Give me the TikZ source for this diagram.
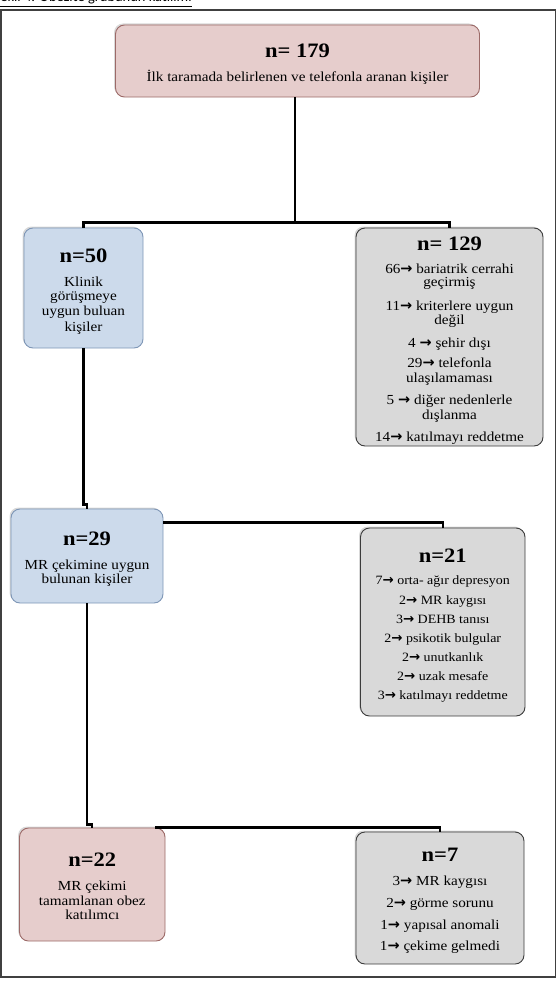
\documentclass[tikz,border=0pt]{standalone}
\usepackage{fontspec}
\setmainfont[FakeStretch=1.1]{Liberation Serif}
\newfontfamily\arrowfont{DejaVu Sans}
\newfontfamily\capfont{Carlito}
\usetikzlibrary{shadows,backgrounds}
\definecolor{pinkfill}{HTML}{E6CDCC}
\definecolor{pinkdraw}{HTML}{9C6A68}
\definecolor{bluefill}{HTML}{CCDAEB}
\definecolor{bluedraw}{HTML}{7E96B6}
\definecolor{greyfill}{HTML}{D9D9D9}
\definecolor{greydraw}{HTML}{3C3C3C}
\newcommand\ar{{\arrowfont\bfseries\scalebox{1.05}{→}}}
\begin{document}
\begin{tikzpicture}[x=1pt,y=-1pt,
  box/.style={rectangle, rounded corners=9pt, line width=0.9pt, inner sep=0pt,
    drop shadow={shadow xshift=-1.5pt, shadow yshift=1.5pt, fill=black, opacity=0.15}},
  pinkbox/.style={box, draw=pinkdraw, fill=pinkfill},
  bluebox/.style={box, draw=bluedraw, fill=bluefill},
  greybox/.style={box, draw=greydraw, fill=greyfill},
  ttl/.style={anchor=base, inner sep=0pt, font=\fontsize{20.5}{22}\selectfont\bfseries},
  body/.style={anchor=base, inner sep=0pt, font=\fontsize{13.8}{15}\selectfont},
  smallbody/.style={anchor=base, inner sep=0pt, font=\fontsize{12.7}{14}\selectfont},
  conn/.style={line width=2.2pt, black}]
\useasboundingbox (0,0) rectangle (557,982);
\clip (0,0) rectangle (557,982);

% caption (cut at top)
\node[anchor=base west, inner sep=0pt, font=\capfont\fontsize{14.5}{16}\selectfont] (cap) at (-6.5,2) {\underline{Şekil 4. Obezite grubunun katılımı}};

% frame
\draw[line width=1.5pt, draw=black!75] (1,10) rectangle (555.5,977);

% boxes
\node[pinkbox, minimum width=364pt, minimum height=72pt] (top) at (297.5,61) {};
\node[bluebox, minimum width=119pt, minimum height=120pt] (n50) at (83.5,288) {};
\node[greybox, minimum width=187pt, minimum height=218pt] (n129) at (449.5,337) {};
\node[bluebox, minimum width=152pt, minimum height=94pt] (n29) at (87,556) {};
\node[greybox, minimum width=164.5pt, minimum height=188pt] (n21) at (442.75,622) {};
\node[pinkbox, minimum width=145.5pt, minimum height=113pt] (n22) at (92.25,884.5) {};
\node[greybox, minimum width=168pt, minimum height=132pt] (n7) at (440,898) {};

% connectors
\coordinate (j1) at (295,223);
\draw[conn] (top.south -| j1) -- (j1);
\draw[conn] (n50.north) -- ++(0,-5) -| (n129.north);
\draw[conn] (n50.south) -- ++(0,156) -| (n29.north);
\draw[conn] ([yshift=-14pt]n29.north east) -| (n21.north);
\draw[conn] (n29.south) -- ++(0,221) -| (n22.north);
\draw[conn] ([xshift=-10pt]n22.north east) -| (n7.north);

% top box text
\node[ttl] (t179) at (297.5,57) {n= 179};
\node[body] (s179) at (297.5,81.5) {İlk taramada belirlenen ve telefonla aranan kişiler};

% n=50
\node[ttl] (t50) at (83.5,262) {n=50};
\foreach \ty/\tx [count=\i] in {286/Klinik, 300/görüşmeye, 315/uygun buluan, 331/kişiler}
  \node[body] (b50-\i) at (83.5,\ty) {\tx};

% n=129
\node[ttl] (t129) at (449.5,250) {n= 129};
\foreach \ty/\tx [count=\i] in {273/{66\ar\ bariatrik cerrahi}, 286/geçirmiş,
   310/{11\ar\ kriterlere uygun}, 324/değil, 347/{4~\ar\ şehir dışı},
   367/{29\ar\ telefonla}, 382/ulaşılamaması, 404/{5~\ar\ diğer nedenlerle},
   419/dışlanma, 441/{14\ar\ katılmayı reddetme}}
  \node[body] (b129-\i) at (449.5,\ty) {\tx};

% n=29
\node[ttl] (t29) at (87,545) {n=29};
\node[body] (b29-1) at (87,569) {MR çekimine uygun};
\node[body] (b29-2) at (87,583) {bulunan kişiler};

% n=21
\node[ttl] (t21) at (442.75,562) {n=21};
\foreach \ty/\tx [count=\i] in {584/{7\ar\ orta- ağır depresyon}, 604/{2\ar\ MR kaygısı},
   623/{3\ar\ DEHB tanısı}, 642/{2\ar\ psikotik bulgular}, 661/{2\ar\ unutkanlık},
   680/{2\ar\ uzak mesafe}, 699/{3\ar\ katılmayı reddetme}}
  \node[smallbody] (b21-\i) at (442.75,\ty) {\tx};

% n=22
\node[ttl] (t22) at (92.25,866) {n=22};
\foreach \ty/\tx [count=\i] in {890/MR çekimi, 905/tamamlanan obez, 919/katılımcı}
  \node[body] (b22-\i) at (92.25,\ty) {\tx};

% n=7
\node[ttl] (t7) at (440,861) {n=7};
\foreach \ty/\tx [count=\i] in {885/{3\ar\ MR kaygısı}, 907/{2\ar\ görme sorunu},
   929/{1\ar\ yapısal anomali}, 950/{1\ar\ çekime gelmedi}}
  \node[body] (b7-\i) at (440,\ty) {\tx};
\end{tikzpicture}
\end{document}
